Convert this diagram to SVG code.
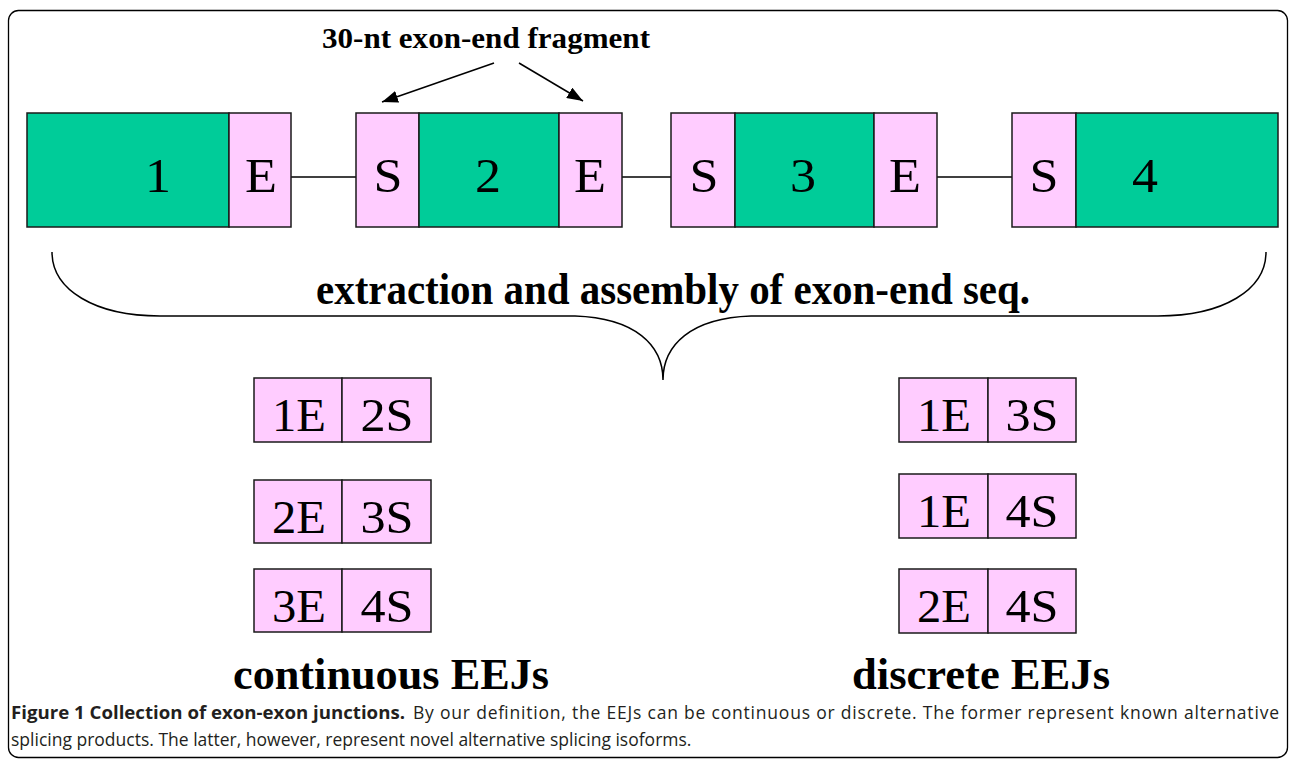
<svg xmlns="http://www.w3.org/2000/svg" width="1293" height="761" viewBox="0 0 1293 761">
  <defs>
    <marker id="arr" viewBox="0 0 16 12" refX="16" refY="6" markerWidth="16" markerHeight="12" markerUnits="userSpaceOnUse" orient="auto">
      <path d="M0,0 L16,6 L0,12 Z" fill="#000"/>
    </marker>
    <style>
      .ex { fill: #00CC99; stroke: #1a1a1a; stroke-width: 1.5; }
      .pk { fill: #FFCCFF; stroke: #1a1a1a; stroke-width: 1.5; }
      .lbl { font-family: "Liberation Serif", "Times New Roman", serif; font-size: 48px; fill: #000; text-anchor: middle; }
      .jl { font-family: "Liberation Serif", "Times New Roman", serif; font-size: 46px; fill: #000; text-anchor: middle; }
      .bold { font-family: "Liberation Serif", "Times New Roman", serif; font-weight: bold; fill: #000; }
      .intron { stroke: #000; stroke-width: 1.5; fill: none; }
      .cap { font-family: "Open Sans", "Noto Sans", sans-serif; font-size: 17.5px; fill: #231f20; }
    </style>
  </defs>

  <rect id="frame" x="8.5" y="10.5" width="1279" height="747" rx="10" ry="10" fill="#fff" stroke="#000" stroke-width="1.3"/>

  <text id="fragment-label" class="bold" x="322" y="48" font-size="29" textLength="328" lengthAdjust="spacingAndGlyphs">30-nt exon-end fragment</text>

  <g id="connectors">
    <line x1="494" y1="63" x2="382" y2="102" stroke="#000" stroke-width="1.5" marker-end="url(#arr)"/>
    <line x1="519" y1="63" x2="583" y2="101" stroke="#000" stroke-width="1.5" marker-end="url(#arr)"/>
    <line class="intron" x1="291" y1="177" x2="356" y2="177"/>
    <line class="intron" x1="622" y1="177" x2="671" y2="177"/>
    <line class="intron" x1="937" y1="177" x2="1012" y2="177"/>
    <path id="brace" class="intron" d="M52,252 C52,290 95,316 160,316 L575,316 C635,318 663,345 663,380 C663,345 691,318 751,316 L1158,316 C1223,316 1266,290 1266,252"/>
  </g>

  <g id="exon1">
    <rect class="ex" x="27" y="113" width="202" height="114"/>
    <rect class="pk" x="229" y="113" width="62" height="114"/>
    <text class="lbl" x="158" y="192" textLength="26" lengthAdjust="spacingAndGlyphs">1</text>
    <text class="lbl" x="261" y="192" textLength="32" lengthAdjust="spacingAndGlyphs">E</text>
  </g>
  <g id="exon2">
    <rect class="pk" x="356" y="113" width="63" height="114"/>
    <rect class="ex" x="419" y="113" width="140" height="114"/>
    <rect class="pk" x="559" y="113" width="63" height="114"/>
    <text class="lbl" x="388" y="192" textLength="29" lengthAdjust="spacingAndGlyphs">S</text>
    <text class="lbl" x="488" y="192" textLength="26" lengthAdjust="spacingAndGlyphs">2</text>
    <text class="lbl" x="590" y="192" textLength="32" lengthAdjust="spacingAndGlyphs">E</text>
  </g>
  <g id="exon3">
    <rect class="pk" x="671" y="113" width="64" height="114"/>
    <rect class="ex" x="735" y="113" width="139" height="114"/>
    <rect class="pk" x="874" y="113" width="63" height="114"/>
    <text class="lbl" x="704" y="192" textLength="29" lengthAdjust="spacingAndGlyphs">S</text>
    <text class="lbl" x="803" y="192" textLength="26" lengthAdjust="spacingAndGlyphs">3</text>
    <text class="lbl" x="905" y="192" textLength="32" lengthAdjust="spacingAndGlyphs">E</text>
  </g>
  <g id="exon4">
    <rect class="pk" x="1012" y="113" width="64" height="114"/>
    <rect class="ex" x="1076" y="113" width="202" height="114"/>
    <text class="lbl" x="1044" y="192" textLength="29" lengthAdjust="spacingAndGlyphs">S</text>
    <text class="lbl" x="1145" y="192" textLength="26" lengthAdjust="spacingAndGlyphs">4</text>
  </g>

  <text id="assembly-label" class="bold" x="316" y="304" font-size="44" textLength="714" lengthAdjust="spacingAndGlyphs">extraction and assembly of exon-end seq.</text>

  <g id="j-1E-2S">
    <rect class="pk" x="254" y="378" width="88" height="64"/>
    <rect class="pk" x="342" y="378" width="89" height="64"/>
    <text class="jl" x="299" y="431" textLength="54" lengthAdjust="spacingAndGlyphs">1E</text>
    <text class="jl" x="387" y="431" textLength="53" lengthAdjust="spacingAndGlyphs">2S</text>
  </g>
  <g id="j-2E-3S">
    <rect class="pk" x="254" y="480" width="88" height="63"/>
    <rect class="pk" x="342" y="480" width="89" height="63"/>
    <text class="jl" x="299" y="533" textLength="54" lengthAdjust="spacingAndGlyphs">2E</text>
    <text class="jl" x="387" y="533" textLength="53" lengthAdjust="spacingAndGlyphs">3S</text>
  </g>
  <g id="j-3E-4S">
    <rect class="pk" x="254" y="569" width="88" height="63"/>
    <rect class="pk" x="342" y="569" width="89" height="63"/>
    <text class="jl" x="299" y="622" textLength="54" lengthAdjust="spacingAndGlyphs">3E</text>
    <text class="jl" x="387" y="622" textLength="53" lengthAdjust="spacingAndGlyphs">4S</text>
  </g>

  <g id="j-1E-3S">
    <rect class="pk" x="899" y="378" width="89" height="64"/>
    <rect class="pk" x="988" y="378" width="88" height="64"/>
    <text class="jl" x="944" y="431" textLength="54" lengthAdjust="spacingAndGlyphs">1E</text>
    <text class="jl" x="1032" y="431" textLength="53" lengthAdjust="spacingAndGlyphs">3S</text>
  </g>
  <g id="j-1E-4S">
    <rect class="pk" x="899" y="474" width="89" height="64"/>
    <rect class="pk" x="988" y="474" width="88" height="64"/>
    <text class="jl" x="944" y="527" textLength="54" lengthAdjust="spacingAndGlyphs">1E</text>
    <text class="jl" x="1032" y="527" textLength="53" lengthAdjust="spacingAndGlyphs">4S</text>
  </g>
  <g id="j-2E-4S">
    <rect class="pk" x="899" y="569" width="89" height="64"/>
    <rect class="pk" x="988" y="569" width="88" height="64"/>
    <text class="jl" x="944" y="622" textLength="54" lengthAdjust="spacingAndGlyphs">2E</text>
    <text class="jl" x="1032" y="622" textLength="53" lengthAdjust="spacingAndGlyphs">4S</text>
  </g>

  <text id="continuous-label" class="bold" x="233" y="689" font-size="44" textLength="316" lengthAdjust="spacingAndGlyphs">continuous EEJs</text>
  <text id="discrete-label" class="bold" x="852" y="689" font-size="44" textLength="258" lengthAdjust="spacingAndGlyphs">discrete EEJs</text>

  <g id="caption">
    <text class="cap" x="11" y="719" font-weight="bold" textLength="394" lengthAdjust="spacingAndGlyphs">Figure 1 Collection of exon-exon junctions.</text>
    <text class="cap" x="413" y="719" textLength="866" lengthAdjust="spacing">By our definition, the EEJs can be continuous or discrete. The former represent known alternative</text>
    <text class="cap" x="11" y="746">splicing products. The latter, however, represent novel alternative splicing isoforms.</text>
  </g>
</svg>
